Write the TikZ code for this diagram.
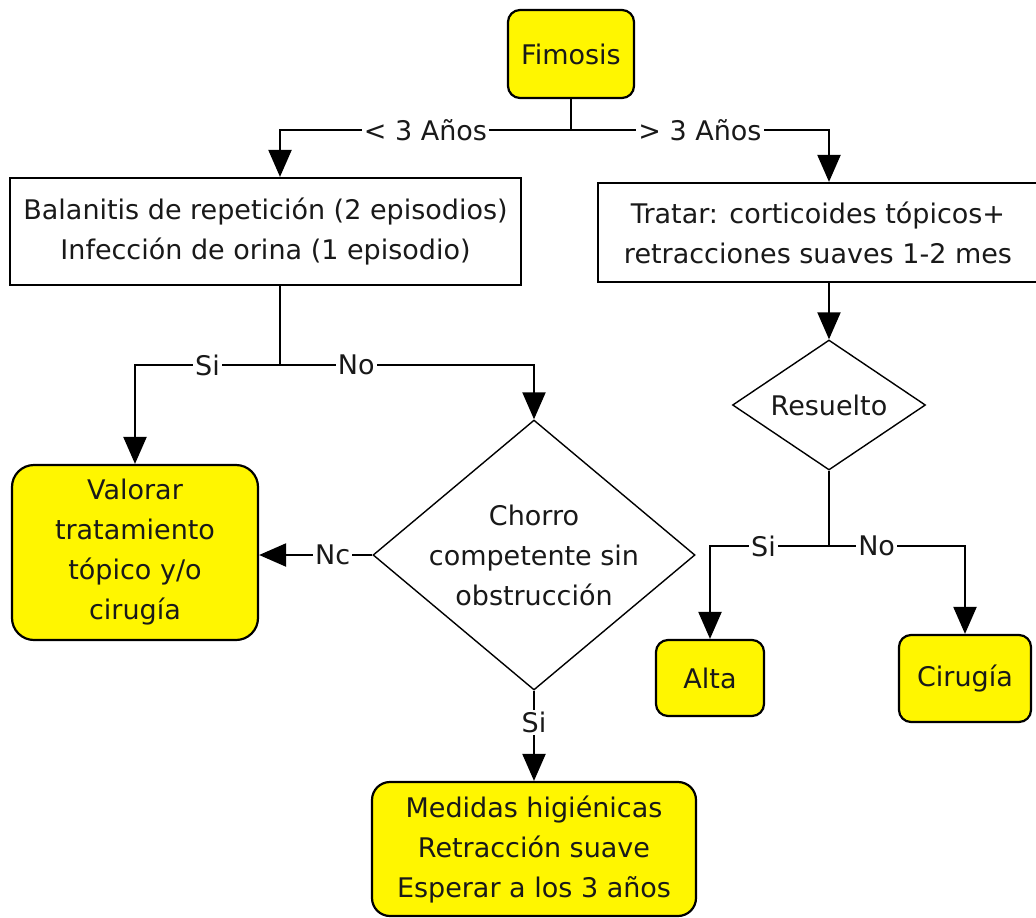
\documentclass[tikz,border=0pt]{standalone}
\usepackage{fontspec}
\setmainfont{DejaVu Sans}
\usetikzlibrary{arrows.meta,shapes.geometric}
\definecolor{boxyellow}{RGB}{255,246,0}
\tikzset{
  every node/.style={font=\fontsize{27}{40}\selectfont, text=black!90},
  ybox/.style={draw=black, line width=2.2pt, fill=boxyellow, rounded corners=12pt, align=center, inner sep=0pt},
  wbox/.style={draw=black, line width=2.2pt, fill=white, align=center, inner sep=0pt},
  dec/.style={diamond, draw=black, line width=1.4pt, fill=white, inner sep=0pt},
  dectext/.style={align=center, inner sep=0pt},
  conn/.style={draw=black, line width=2.2pt},
  arr/.style={conn, -{Triangle[width=23pt,length=27pt]}},
  lbl/.style={fill=white, inner sep=2pt}
}
\begin{document}
\begin{tikzpicture}[x=1pt,y=-1pt]
\useasboundingbox (0,0) rectangle (1036,918);
\fill[white] (0,0) rectangle (1036,918);
% nodes
\node[ybox, minimum width=126, minimum height=88] (fim) at (571,54) {Fimosis};
\node[wbox, minimum width=511, minimum height=107] (bal) at (265.5,231.5)
  {Balanitis de repetición (2 episodios)\\Infección de orina (1 episodio)};
\node[wbox, minimum width=440, minimum height=99] (trat) at (818,232.5)
  {Tratar: corticoides tópicos+\\retracciones suaves 1-2 mes};
\node[dec, minimum width=193, minimum height=130,
  label={[dectext]center:Resuelto}] (res) at (829,405) {};
\node[dec, minimum width=322, minimum height=270,
  label={[dectext]center:Chorro\\competente sin\\obstrucción}] (cho) at (534,555) {};
\node[ybox, rounded corners=22pt, minimum width=246, minimum height=175] (val) at (135,552.5)
  {Valorar\\tratamiento\\tópico y/o\\cirugía};
\node[ybox, minimum width=108, minimum height=76] (alta) at (710,678) {Alta};
\node[ybox, minimum width=132, minimum height=87] (cir) at (965,678.5) {Cirugía};
\node[ybox, rounded corners=18pt, minimum width=324, minimum height=134] (med) at (534,849)
  {Medidas higiénicas\\Retracción suave\\Esperar a los 3 años};
% junctions
\coordinate (j1) at (571,130);
\coordinate (j2) at (280,365);
\coordinate (j3) at (829,546);
\coordinate (jl) at (280,0);
% connectors
\draw[conn] (fim.south) -- (j1);
\draw[arr] (j1) -- node[lbl]{< 3 Años} (j1 -| jl) -- (jl |- bal.north);
\draw[arr] (j1) -- node[lbl]{> 3 Años} (j1 -| res) -- (res |- trat.north);
\draw[conn] (jl |- bal.south) -- (j2);
\draw[arr] (j2) -- node[lbl]{Si} (j2 -| val) -- (val.north);
\draw[arr] (j2) -- node[lbl, pos=0.3]{No} (j2 -| cho) -- (cho.north);
\draw[arr] (res |- trat.south) -- (res.north);
\draw[conn] (res.south) -- (j3);
\draw[arr] (j3) -- node[lbl, pos=0.55]{Si} (j3 -| alta) -- (alta.north);
\draw[arr] (j3) -- node[lbl, pos=0.35]{No} (j3 -| cir) -- (cir.north);
\draw[arr] (cho.west) -- node[lbl, pos=0.35]{Nc} (val.east |- cho.west);
\draw[arr] (cho.south) -- node[lbl, pos=0.35]{Si} (med.north);
\end{tikzpicture}
\end{document}
